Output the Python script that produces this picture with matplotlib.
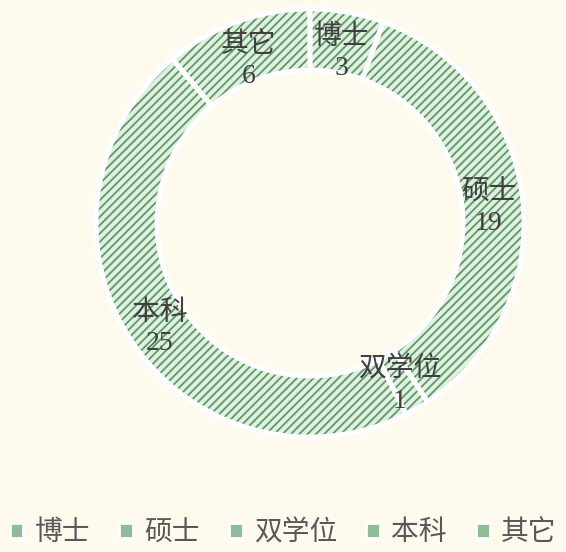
import matplotlib
matplotlib.use("Agg")
from matplotlib import pyplot as plt
from matplotlib.patches import Patch
import numpy as np

categories = ["博士", "硕士", "双学位", "本科", "其它"]
counts = [3, 19, 1, 25, 6]

bg = "#fffaee"
face = "#e1efdf"
stripe = "#5a9a6a"
text_color = "#404040"
fonts = ["Liberation Serif", "Noto Sans CJK SC"]

plt.rcParams["hatch.linewidth"] = 1.3

fig = plt.figure(figsize=(5.66, 5.52), dpi=100, facecolor=bg)
ax = fig.add_axes([96 / 566, (552 - 223 - 214) / 552, 428 / 566, 428 / 552])
ax.set_facecolor(bg)

# hatched ring
wedges, _ = ax.pie(counts, startangle=90, counterclock=False, radius=1,
                   colors=[face] * len(counts),
                   wedgeprops=dict(width=0.285, linewidth=0, edgecolor=stripe, hatch="////"))
# white gaps between slices
ax.pie(counts, startangle=90, counterclock=False, radius=1,
       wedgeprops=dict(width=0.285, linewidth=3.5, edgecolor="white", fill=False))

labels = [f"{c}\n{v}" for c, v in zip(categories, counts)]
for w, lab in zip(wedges, labels):
    ang = np.deg2rad((w.theta1 + w.theta2) / 2)
    r = 0.84
    ax.text(r * np.cos(ang), r * np.sin(ang) - 0.03, lab, ha="center", va="center",
            fontsize=20, color=text_color, family=fonts, linespacing=1.3)

ax.set_xlim(-1, 1)
ax.set_ylim(-1, 1)
ax.set_aspect("equal")
ax.axis("off")

handles = [Patch(facecolor="#8dbd96", edgecolor="white", linewidth=2) for _ in categories]
leg = fig.legend(handles, categories, loc="lower center", bbox_to_anchor=(0.5, -0.035),
                 ncol=5, frameon=False, handlelength=0.5, handleheight=0.5,
                 handletextpad=0.4, columnspacing=1.05,
                 prop={"family": fonts, "size": 20})
for t in leg.get_texts():
    t.set_color("#595959")

fig.savefig("out.png", dpi=100, facecolor=bg)
